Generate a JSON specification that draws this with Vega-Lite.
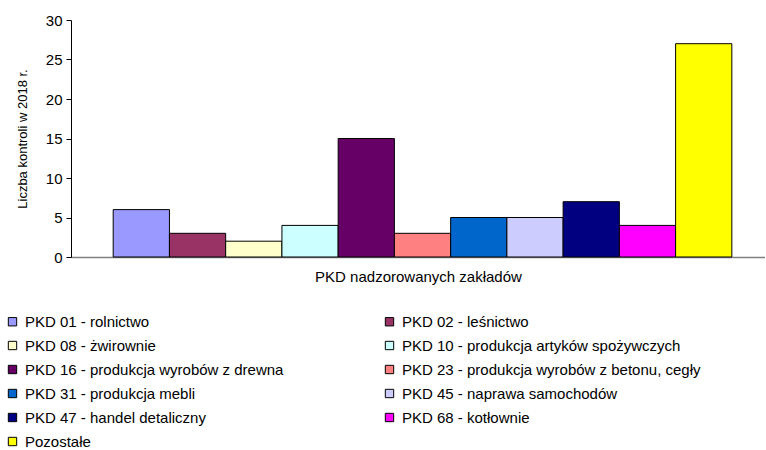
{
  "$schema": "https://vega.github.io/schema/vega-lite/v6.json",
  "width": 694,
  "height": 237,
  "padding": {"left": 5, "top": 13, "right": 0, "bottom": 0},
  "autosize": {"type": "pad"},
  "background": "white",
  "config": {
    "view": {"stroke": null},
    "font": "Liberation Sans"
  },
  "data": {
    "values": [
      {"kategoria": "PKD 01 - rolnictwo", "liczba": 6},
      {"kategoria": "PKD 02 - leśnictwo", "liczba": 3},
      {"kategoria": "PKD 08 - żwirownie", "liczba": 2},
      {"kategoria": "PKD 10 - produkcja artyków spożywczych", "liczba": 4},
      {"kategoria": "PKD 16 - produkcja wyrobów z drewna", "liczba": 15},
      {"kategoria": "PKD 23 - produkcja wyrobów z betonu, cegły", "liczba": 3},
      {"kategoria": "PKD 31 - produkcja mebli", "liczba": 5},
      {"kategoria": "PKD 45 - naprawa samochodów", "liczba": 5},
      {"kategoria": "PKD 47 - handel detaliczny", "liczba": 7},
      {"kategoria": "PKD 68 - kotłownie", "liczba": 4},
      {"kategoria": "Pozostałe", "liczba": 27}
    ]
  },
  "mark": {"type": "bar", "stroke": "#000000", "strokeWidth": 1},
  "encoding": {
    "x": {
      "field": "kategoria",
      "type": "nominal",
      "sort": null,
      "scale": {"paddingInner": 0, "paddingOuter": 0.67, "align": 0.56},
      "axis": {
        "title": "PKD nadzorowanych zakładów",
        "titleFont": "Liberation Sans",
        "titleFontSize": 15,
        "titleFontWeight": "normal",
        "titleColor": "#000000",
        "titlePadding": 12,
        "labels": false,
        "ticks": false,
        "domainColor": "#808080",
        "domainWidth": 1.5
      }
    },
    "y": {
      "field": "liczba",
      "type": "quantitative",
      "scale": {"domain": [0, 30], "nice": false},
      "axis": {
        "title": "Liczba kontroli w 2018 r.",
        "titleFont": "Liberation Sans",
        "titleFontSize": 13,
        "titleFontWeight": "normal",
        "titleColor": "#000000",
        "titlePadding": 16,
        "values": [0, 5, 10, 15, 20, 25, 30],
        "labelFontSize": 15,
        "labelColor": "#000000",
        "labelPadding": 4,
        "tickColor": "#000000",
        "tickSize": 5,
        "domainColor": "#000000",
        "grid": false
      }
    },
    "color": {
      "field": "kategoria",
      "type": "nominal",
      "sort": null,
      "scale": {
        "range": ["#9999FF", "#993366", "#FFFFCC", "#CCFFFF", "#660066", "#FF8080", "#0066CC", "#CCCCFF", "#000080", "#FF00FF", "#FFFF00"]
      },
      "legend": {
        "title": null,
        "orient": "none",
        "legendX": -66,
        "legendY": 294,
        "direction": "horizontal",
        "columns": 2,
        "columnPadding": 98,
        "rowPadding": 8,
        "symbolType": "square",
        "symbolSize": 70,
        "symbolStrokeColor": "#000000",
        "symbolStrokeWidth": 1,
        "labelFontSize": 15,
        "labelColor": "#000000",
        "labelLimit": 400,
        "labelOffset": 5
      }
    }
  }
}
